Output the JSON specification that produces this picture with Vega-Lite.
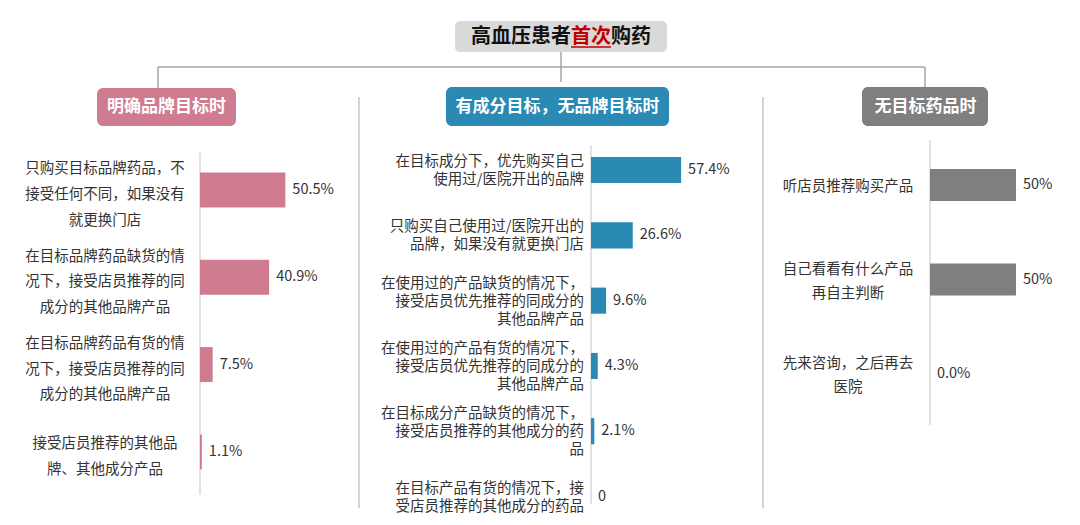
{
  "$schema": "https://vega.github.io/schema/vega-lite/v6.json",
  "padding": 0,
  "spacing": 0,
  "bounds": "flush",
  "background": "white",
  "config": {"view": {"stroke": null}, "font": "Noto Sans CJK SC", "concat": {"spacing": 0}},
  "datasets": {
    "title": [{"a": "高血压患者", "b": "首次", "c": "购药"}],
    "heads": [{"group": "明确品牌目标时"}, {"group": "有成分目标，无品牌目标时"}, {"group": "无目标药品时"}],
    "brand": [
      {"k": "a1", "label": "只购买目标品牌药品，不\n接受任何不同，如果没有\n就更换门店", "value": 50.5, "display": "50.5%"},
      {"k": "a2", "label": "在目标品牌药品缺货的情\n况下，接受店员推荐的同\n成分的其他品牌产品", "value": 40.9, "display": "40.9%"},
      {"k": "a3", "label": "在目标品牌药品有货的情\n况下，接受店员推荐的同\n成分的其他品牌产品", "value": 7.5, "display": "7.5%"},
      {"k": "a4", "label": "接受店员推荐的其他品\n牌、其他成分产品", "value": 1.1, "display": "1.1%"}
    ],
    "ingredient": [
      {"k": "b1", "label": "在目标成分下，优先购买自己\n使用过/医院开出的品牌", "value": 57.4, "display": "57.4%"},
      {"k": "b2", "label": "只购买自己使用过/医院开出的\n品牌，如果没有就更换门店", "value": 26.6, "display": "26.6%"},
      {"k": "b3", "label": "在使用过的产品缺货的情况下，\n接受店员优先推荐的同成分的\n其他品牌产品", "value": 9.6, "display": "9.6%"},
      {"k": "b4", "label": "在使用过的产品有货的情况下，\n接受店员优先推荐的同成分的\n其他品牌产品", "value": 4.3, "display": "4.3%"},
      {"k": "b5", "label": "在目标成分产品缺货的情况下，\n接受店员推荐的其他成分的药\n品", "value": 2.1, "display": "2.1%"},
      {"k": "b6", "label": "在目标产品有货的情况下，接\n受店员推荐的其他成分的药品", "value": 0, "display": "0"}
    ],
    "none": [
      {"k": "c1", "label": "听店员推荐购买产品", "value": 50, "display": "50%"},
      {"k": "c2", "label": "自己看看有什么产品\n再自主判断", "value": 50, "display": "50%"},
      {"k": "c3", "label": "先来咨询，之后再去\n医院", "value": 0, "display": "0.0%"}
    ]
  },
  "vconcat": [
    {
      "width": 1080,
      "height": 130,
      "data": {"name": "title"},
      "layer": [
        {
          "mark": {"type": "rect", "fill": "#d9d9d9", "cornerRadius": 5},
          "encoding": {
            "x": {"datum": 455, "type": "quantitative", "scale": {"domain": [0, 1080], "nice": false, "zero": false}, "axis": null},
            "x2": {"datum": 667},
            "y": {"datum": 21, "type": "quantitative", "scale": {"domain": [0, 130], "reverse": true, "nice": false, "zero": false}, "axis": null},
            "y2": {"datum": 52}
          }
        },
        {
          "mark": {"type": "text", "align": "right", "baseline": "middle", "fontSize": 20, "fontWeight": "bold", "fill": "#111111"},
          "encoding": {"x": {"datum": 571}, "y": {"datum": 37}, "text": {"field": "a"}}
        },
        {
          "mark": {"type": "text", "align": "left", "baseline": "middle", "fontSize": 20, "fontWeight": "bold", "fill": "#c00000"},
          "encoding": {"x": {"datum": 571}, "y": {"datum": 37}, "text": {"field": "b"}}
        },
        {
          "mark": {"type": "text", "align": "left", "baseline": "middle", "fontSize": 20, "fontWeight": "bold", "fill": "#111111"},
          "encoding": {"x": {"datum": 611}, "y": {"datum": 37}, "text": {"field": "c"}}
        },
        {
          "mark": {"type": "rule", "stroke": "#c00000", "strokeWidth": 1.5},
          "encoding": {"x": {"datum": 571}, "x2": {"datum": 611}, "y": {"datum": 47}}
        },
        {
          "mark": {"type": "rule", "stroke": "#a6a6a6", "strokeWidth": 1.5},
          "encoding": {"x": {"datum": 158}, "x2": {"datum": 925}, "y": {"datum": 67}}
        },
        {
          "mark": {"type": "rule", "stroke": "#a6a6a6", "strokeWidth": 1.5},
          "encoding": {"x": {"datum": 561}, "y": {"datum": 52}, "y2": {"datum": 82}}
        },
        {
          "mark": {"type": "rule", "stroke": "#a6a6a6", "strokeWidth": 1.5},
          "encoding": {"x": {"datum": 158}, "y": {"datum": 67}, "y2": {"datum": 88}}
        },
        {
          "mark": {"type": "rule", "stroke": "#a6a6a6", "strokeWidth": 1.5},
          "encoding": {"x": {"datum": 925}, "y": {"datum": 67}, "y2": {"datum": 88}}
        },
        {
          "mark": {"type": "rule", "stroke": "#c4c4c4", "strokeWidth": 1.5},
          "encoding": {"x": {"datum": 359}, "y": {"datum": 97}, "y2": {"datum": 508}}
        },
        {
          "mark": {"type": "rule", "stroke": "#c4c4c4", "strokeWidth": 1.5},
          "encoding": {"x": {"datum": 763}, "y": {"datum": 97}, "y2": {"datum": 508}}
        },
        {
          "data": {"name": "heads"},
          "transform": [{"filter": "datum.group === '明确品牌目标时'"}],
          "mark": {"type": "rect", "fill": "#cf7c91", "cornerRadius": 6},
          "encoding": {"x": {"datum": 97}, "x2": {"datum": 236}, "y": {"datum": 88}, "y2": {"datum": 126}}
        },
        {
          "data": {"name": "heads"},
          "transform": [{"filter": "datum.group === '明确品牌目标时'"}],
          "mark": {"type": "text", "align": "center", "baseline": "middle", "fontSize": 17, "fontWeight": "bold", "fill": "white"},
          "encoding": {"x": {"datum": 166.5}, "y": {"datum": 107}, "text": {"field": "group"}}
        },
        {
          "data": {"name": "heads"},
          "transform": [{"filter": "datum.group === '有成分目标，无品牌目标时'"}],
          "mark": {"type": "rect", "fill": "#2a8ab4", "cornerRadius": 6},
          "encoding": {"x": {"datum": 446}, "x2": {"datum": 669}, "y": {"datum": 87}, "y2": {"datum": 126}}
        },
        {
          "data": {"name": "heads"},
          "transform": [{"filter": "datum.group === '有成分目标，无品牌目标时'"}],
          "mark": {"type": "text", "align": "center", "baseline": "middle", "fontSize": 17, "fontWeight": "bold", "fill": "white"},
          "encoding": {"x": {"datum": 557.5}, "y": {"datum": 107}, "text": {"field": "group"}}
        },
        {
          "data": {"name": "heads"},
          "transform": [{"filter": "datum.group === '无目标药品时'"}],
          "mark": {"type": "rect", "fill": "#7f7f7f", "cornerRadius": 6},
          "encoding": {"x": {"datum": 862}, "x2": {"datum": 988}, "y": {"datum": 87}, "y2": {"datum": 126}}
        },
        {
          "data": {"name": "heads"},
          "transform": [{"filter": "datum.group === '无目标药品时'"}],
          "mark": {"type": "text", "align": "center", "baseline": "middle", "fontSize": 17, "fontWeight": "bold", "fill": "white"},
          "encoding": {"x": {"datum": 925.5}, "y": {"datum": 107}, "text": {"field": "group"}}
        }
      ]
    },
    {
      "spacing": 0,
      "bounds": "flush",
      "hconcat": [
        {
          "width": 360,
          "height": 395,
          "data": {"name": "brand"},
          "encoding": {
            "y": {"field": "k", "type": "nominal", "sort": null, "axis": null, "scale": {"domain": ["a1", "a2", "a3", "a4"], "paddingInner": 0.6, "paddingOuter": 0.5623, "align": 0.433}},
            "x": {"field": "value", "type": "quantitative", "axis": null, "scale": {"domain": [-118.34, 94.67], "nice": false, "zero": false}}
          },
          "layer": [
            {
              "transform": [{"filter": "datum.k === 'a1'"}],
              "mark": {"type": "rule", "stroke": "#d9d9d9", "strokeWidth": 1.5, "yOffset": -37.5, "y2Offset": 43},
              "encoding": {"x": {"datum": 0}, "y": {"datum": "a1"}, "y2": {"datum": "a4"}}
            },
            {
              "mark": {"type": "bar", "fill": "#cf7c91"},
              "encoding": {"x2": {"datum": 0}}
            },
            {
              "mark": {"type": "text", "align": "left", "baseline": "middle", "dx": 7, "fontSize": 14.5, "fill": "#333333"},
              "encoding": {"text": {"field": "display"}}
            },
            {
              "mark": {"type": "text", "align": "center", "baseline": "middle", "dx": -95, "dy": {"expr": "5 - (length(split(datum.label, '\\n')) - 1) * 12.85"}, "fontSize": 14.5, "lineBreak": "\n", "lineHeight": 25.7, "fill": "#333333"},
              "encoding": {"x": {"datum": 0}, "text": {"field": "label"}}
            }
          ]
        },
        {
          "width": 404,
          "height": 395,
          "data": {"name": "ingredient"},
          "encoding": {
            "y": {"field": "k", "type": "nominal", "sort": null, "axis": null, "scale": {"domain": ["b1", "b2", "b3", "b4", "b5", "b6"], "paddingInner": 0.6, "paddingOuter": 0.3245, "align": 0.637}},
            "x": {"field": "value", "type": "quantitative", "axis": null, "scale": {"domain": [-147.13, 110.19], "nice": false, "zero": false}}
          },
          "layer": [
            {
              "transform": [{"filter": "datum.k === 'b1'"}],
              "mark": {"type": "rule", "stroke": "#d9d9d9", "strokeWidth": 1.5, "yOffset": -25, "y2Offset": 8},
              "encoding": {"x": {"datum": 0}, "y": {"datum": "b1"}, "y2": {"datum": "b6"}}
            },
            {
              "mark": {"type": "bar", "fill": "#2a8ab4"},
              "encoding": {"x2": {"datum": 0}}
            },
            {
              "mark": {"type": "text", "align": "left", "baseline": "middle", "dx": 7, "fontSize": 14.5, "fill": "#333333"},
              "encoding": {"text": {"field": "display"}}
            },
            {
              "mark": {"type": "text", "align": "right", "baseline": "middle", "dx": -7, "dy": {"expr": "1 - (length(split(datum.label, '\\n')) - 1) * 9"}, "fontSize": 14.5, "lineBreak": "\n", "lineHeight": 18, "fill": "#333333"},
              "encoding": {"x": {"datum": 0}, "text": {"field": "label"}}
            }
          ]
        },
        {
          "width": 316,
          "height": 395,
          "data": {"name": "none"},
          "encoding": {
            "y": {"field": "k", "type": "nominal", "sort": null, "axis": null, "scale": {"domain": ["c1", "c2", "c3"], "paddingInner": 0.66, "paddingOuter": 0.92, "align": 0.224}},
            "x": {"field": "value", "type": "quantitative", "axis": null, "scale": {"domain": [-96.51, 87.21], "nice": false, "zero": false}}
          },
          "layer": [
            {
              "transform": [{"filter": "datum.k === 'c1'"}],
              "mark": {"type": "rule", "stroke": "#d9d9d9", "strokeWidth": 1.5, "yOffset": -45, "y2Offset": 51},
              "encoding": {"x": {"datum": 0}, "y": {"datum": "c1"}, "y2": {"datum": "c3"}}
            },
            {
              "mark": {"type": "bar", "fill": "#7f7f7f"},
              "encoding": {"x2": {"datum": 0}}
            },
            {
              "mark": {"type": "text", "align": "left", "baseline": "middle", "dx": 7, "fontSize": 14.5, "fill": "#333333"},
              "encoding": {"text": {"field": "display"}}
            },
            {
              "mark": {"type": "text", "align": "center", "baseline": "middle", "dx": -82, "dy": {"expr": "2 - (length(split(datum.label, '\\n')) - 1) * 12"}, "fontSize": 14.5, "lineBreak": "\n", "lineHeight": 24, "fill": "#333333"},
              "encoding": {"x": {"datum": 0}, "text": {"field": "label"}}
            }
          ]
        }
      ]
    }
  ]
}
